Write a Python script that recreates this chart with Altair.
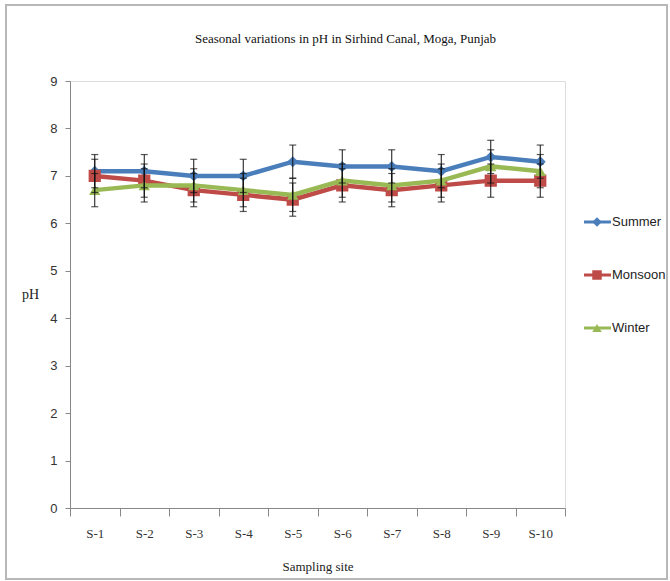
import altair as alt
import pandas as pd

sites = ["S-1", "S-2", "S-3", "S-4", "S-5", "S-6", "S-7", "S-8", "S-9", "S-10"]
series = ["Summer", "Monsoon", "Winter"]
summer = [7.1, 7.1, 7.0, 7.0, 7.3, 7.2, 7.2, 7.1, 7.4, 7.3]
monsoon = [7.0, 6.9, 6.7, 6.6, 6.5, 6.8, 6.7, 6.8, 6.9, 6.9]
winter = [6.7, 6.8, 6.8, 6.7, 6.6, 6.9, 6.8, 6.9, 7.2, 7.1]
errors = [0.35, 0.35, 0.35]
colors = ["#4a7ebb", "#be4b48", "#98b954"]
shapes = ["diamond", "square", "triangle-up"]
sizes = [120, 150, 130]

rows = []
for name, vals, e in zip(series, [summer, monsoon, winter], errors):
    for s, v in zip(sites, vals):
        rows.append({"site": s, "series": name, "value": v, "lo": v - e, "hi": v + e})
df = pd.DataFrame(rows)

W, H = 495, 427
xenc = alt.X("site:N", sort=sites, title="Sampling site",
             scale=alt.Scale(paddingInner=0, paddingOuter=0),
             axis=alt.Axis(labelAngle=0, tickBand="extent", tickSize=8,
                           labelPadding=11, titlePadding=20,
                           labelFont="Liberation Serif", labelFontSize=13,
                           titleFont="Liberation Serif", titleFontSize=13,
                           titleFontWeight="normal", labelColor="#333", titleColor="#222",
                           domainColor="#888", tickColor="#888"))
yscale = alt.Scale(domain=[0, 9], nice=False, zero=True)
yaxis = alt.Axis(values=list(range(10)), grid=False, tickSize=5, labelPadding=8,
                 labelFont="Liberation Sans", labelFontSize=13, labelColor="#333",
                 domainColor="#888", tickColor="#888", title="pH", titleAngle=0,
                 titleFont="Liberation Serif", titleFontSize=14, titleFontWeight="normal",
                 titleColor="#222", titleX=-40, titleY=220, titleAlign="center")

base = alt.Chart(df)
main_layers = []
for i, name in enumerate(series):
    b = base.transform_filter(alt.datum.series == name)
    main_layers.append(
        b.mark_line(color=colors[i], strokeWidth=4.5).encode(
            x=xenc, y=alt.Y("value:Q", scale=yscale, axis=yaxis)))
    main_layers.append(
        b.mark_point(shape=shapes[i], size=sizes[i], filled=True, opacity=1,
                     color=colors[i]).encode(
            x=xenc, y=alt.Y("value:Q", scale=yscale, axis=yaxis)))
for i, name in enumerate(series):
    b = base.transform_filter(alt.datum.series == name)
    main_layers.append(
        b.mark_rule(color="#111", strokeWidth=1).encode(
            x=xenc, y=alt.Y("lo:Q", scale=yscale, axis=yaxis), y2="hi:Q"))
    main_layers.append(
        b.mark_tick(color="#111", thickness=1.2, size=7, orient="horizontal").encode(
            x=xenc, y=alt.Y("lo:Q", scale=yscale, axis=yaxis)))
    main_layers.append(
        b.mark_tick(color="#111", thickness=1.2, size=7, orient="horizontal").encode(
            x=xenc, y=alt.Y("hi:Q", scale=yscale, axis=yaxis)))

main = alt.layer(*main_layers)

# manual legend
leg_df = pd.DataFrame({"series": series})
lscale = alt.Scale(type="point", domain=series, range=[141, 247], padding=0)
cscale = alt.Scale(domain=series, range=colors)
sscale = alt.Scale(domain=series, range=shapes)
lb = alt.Chart(leg_df)
legend = alt.layer(
    lb.mark_rule(strokeWidth=3).encode(
        x=alt.value(514), x2=alt.value(541),
        y=alt.Y("series:N", scale=lscale, axis=None),
        color=alt.Color("series:N", scale=cscale, legend=None)),
    lb.mark_point(filled=True, opacity=1, size=90).encode(
        x=alt.value(527),
        y=alt.Y("series:N", scale=lscale, axis=None),
        color=alt.Color("series:N", scale=cscale, legend=None),
        shape=alt.Shape("series:N", scale=sscale, legend=None)),
    lb.mark_text(align="left", baseline="middle", font="Liberation Sans",
                 fontSize=13, color="#222", dx=0).encode(
        x=alt.value(542),
        y=alt.Y("series:N", scale=lscale, axis=None),
        text="series:N"),
)

frame = alt.Chart(pd.DataFrame({"a": [0]})).mark_rect(
    fill=None, stroke="#b8b8b8", strokeWidth=2).encode(
    x=alt.value(-64), x2=alt.value(597), y=alt.value(-76), y2=alt.value(498))

chart = alt.layer(main, legend, frame).resolve_scale(
    y="independent", color="independent", shape="independent"
).properties(
    width=W, height=H,
    title=alt.Title("Seasonal variations in pH in Sirhind Canal, Moga, Punjab",
                    font="Liberation Serif", fontSize=13, fontWeight="normal",
                    color="#111", anchor="middle", frame="group", offset=-42, dx=28),
    autosize=alt.AutoSizeParams(type="none"),
    padding={"left": 70, "top": 81, "right": 105, "bottom": 73},
).configure_view(stroke=None).configure(background="white")

chart.save("out.html", embed_options={"renderer": "svg", "actions": False})
